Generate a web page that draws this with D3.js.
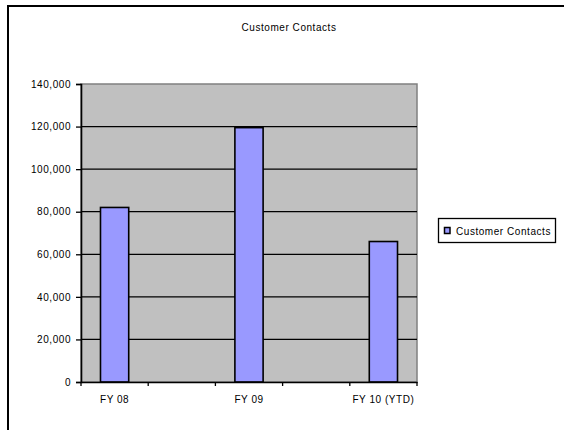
<!DOCTYPE html>
<html><head><meta charset="utf-8">
<script src="https://cdn.jsdelivr.net/npm/d3@7"></script>
<style>
body{margin:0;background:#fff;}
text{font-family:"Liberation Sans",Arial,sans-serif;font-size:10px;fill:#000;letter-spacing:0.55px;}
</style></head>
<body>
<script>
const title = "Customer Contacts";
const categories = ["FY 08", "", "FY 09", "", "FY 10 (YTD)"];
const values = [82000, null, 119500, null, 66000];
const seriesName = "Customer Contacts";
const yTicks = [0, 20000, 40000, 60000, 80000, 100000, 120000, 140000];

const W = 564, H = 430;
const plot = {left: 81, right: 417, top: 84, bottom: 382};

const svg = d3.select("body").append("svg").attr("width", W).attr("height", H);

// outer chart border
svg.append("rect").attr("x", 8).attr("y", 6).attr("width", 700).attr("height", 600)
  .attr("fill", "#fff").attr("stroke", "#000").attr("stroke-width", 2);

svg.append("text").attr("x", 289).attr("y", 31).attr("text-anchor", "middle").text(title);

const x = d3.scaleBand().domain(d3.range(categories.length)).range([plot.left, plot.right]).padding(0);
const y = d3.scaleLinear().domain([0, 140000]).range([plot.bottom, plot.top]);

// plot area
svg.append("rect").attr("x", plot.left).attr("y", plot.top)
  .attr("width", plot.right - plot.left).attr("height", plot.bottom - plot.top)
  .attr("fill", "#c0c0c0").attr("stroke", "#808080").attr("stroke-width", 1.5);

// gridlines
svg.append("g").selectAll("line").data(yTicks.filter(d => d > 0 && d < 140000)).join("line")
  .attr("x1", plot.left).attr("x2", plot.right)
  .attr("y1", d => y(d)).attr("y2", d => y(d))
  .attr("stroke", "#000").attr("stroke-width", 1.3);

// bars
const barW = x.bandwidth() * 0.42;
svg.append("g").selectAll("rect").data(values.map((v, i) => ({v, i})).filter(d => d.v != null)).join("rect")
  .attr("x", d => x(d.i) + (x.bandwidth() - barW) / 2)
  .attr("width", barW)
  .attr("y", d => y(d.v))
  .attr("height", d => y(0) - y(d.v))
  .attr("fill", "#9999ff").attr("stroke", "#000").attr("stroke-width", 1.6);

// y axis
const yAxis = d3.axisLeft(y).tickValues(yTicks).tickFormat(d3.format(",")).tickSize(5).tickPadding(5);
const gy = svg.append("g").attr("transform", `translate(${plot.left},0)`).call(yAxis);
gy.select(".domain").attr("stroke", "#000").attr("stroke-width", 1.6);
gy.selectAll(".tick line").attr("stroke", "#000").attr("stroke-width", 1.3);
gy.selectAll("text").style("font-family", "Liberation Sans, Arial, sans-serif").style("font-size", "10px").attr("fill", "#000");

// x axis
const xAxis = d3.axisBottom(x).tickFormat(i => categories[i]).tickSize(0).tickPadding(14);
const gx = svg.append("g").attr("transform", `translate(0,${plot.bottom})`).call(xAxis);
gx.select(".domain").attr("stroke", "#000").attr("stroke-width", 1.6);
gx.selectAll("text").style("font-family", "Liberation Sans, Arial, sans-serif").style("font-size", "10px").attr("fill", "#000");
// category separator ticks
const edges = d3.range(categories.length + 1).map(i => i < categories.length ? x(i) : x(categories.length - 1) + x.bandwidth());
gx.append("g").selectAll("line").data(edges).join("line")
  .attr("x1", d => d).attr("x2", d => d).attr("y1", 0).attr("y2", 4)
  .attr("stroke", "#000").attr("stroke-width", 1.3);

// legend
const lg = svg.append("g");
lg.append("rect").attr("x", 438.5).attr("y", 218.5).attr("width", 117).attr("height", 24)
  .attr("fill", "#fff").attr("stroke", "#000").attr("stroke-width", 1.3);
lg.append("rect").attr("x", 444.5).attr("y", 227.5).attr("width", 5.5).attr("height", 6)
  .attr("fill", "#9999ff").attr("stroke", "#000").attr("stroke-width", 1.5);
lg.append("text").attr("x", 456).attr("y", 234.5).text(seriesName);
</script>
</body></html>
